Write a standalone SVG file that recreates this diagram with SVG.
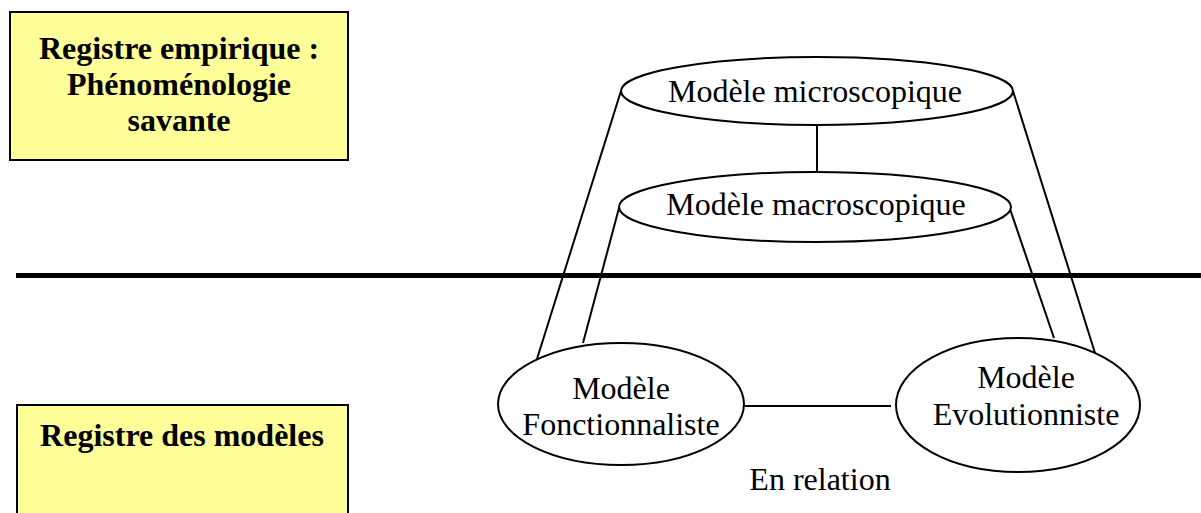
<svg xmlns="http://www.w3.org/2000/svg" width="1201" height="513" viewBox="0 0 1201 513">
  <style>
    .box { fill: #FFFF99; stroke: #000; stroke-width: 2; }
    .node { fill: #fff; stroke: #000; stroke-width: 2; }
    .link { stroke: #000; stroke-width: 2; fill: none; }
    .bold { font-family: "Liberation Serif", "Times New Roman", serif; font-weight: bold; font-size: 32px; text-anchor: middle; fill: #000; }
    .lbl { font-family: "Liberation Serif", "Times New Roman", serif; font-size: 32px; text-anchor: middle; fill: #000; }
  </style>
  <rect width="1201" height="513" fill="#fff"/>

  <!-- register separator -->
  <line x1="16" y1="275.5" x2="1201" y2="275.5" stroke="#000" stroke-width="5"/>

  <!-- connectors -->
  <g id="connectors">
    <line class="link" x1="817" y1="125" x2="817" y2="172"/>
    <line class="link" x1="621" y1="91" x2="537" y2="359"/>
    <line class="link" x1="619" y1="208" x2="583" y2="343"/>
    <line class="link" x1="1013" y1="91" x2="1095" y2="353"/>
    <line class="link" x1="1010" y1="209" x2="1054" y2="338"/>
    <line class="link" x1="745" y1="406" x2="891" y2="406"/>
  </g>

  <g id="registre-empirique">
    <rect class="box" x="10" y="12" width="338" height="148"/>
    <text class="bold" x="179" y="59">Registre empirique :</text>
    <text class="bold" x="179" y="95">Phénoménologie</text>
    <text class="bold" x="179" y="131">savante</text>
  </g>

  <g id="registre-modeles">
    <rect class="box" x="17" y="405" width="331" height="120"/>
    <text class="bold" x="182" y="446">Registre des modèles</text>
  </g>

  <g id="modele-microscopique">
    <ellipse class="node" cx="817" cy="91" rx="196" ry="34"/>
    <text class="lbl" x="815" y="102">Modèle microscopique</text>
  </g>

  <g id="modele-macroscopique">
    <ellipse class="node" cx="815" cy="207" rx="196" ry="35"/>
    <text class="lbl" x="816" y="215">Modèle macroscopique</text>
  </g>

  <g id="modele-fonctionnaliste">
    <ellipse class="node" cx="621" cy="404" rx="123" ry="61"/>
    <text class="lbl" x="621" y="399">Modèle</text>
    <text class="lbl" x="621" y="435">Fonctionnaliste</text>
  </g>

  <g id="modele-evolutionniste">
    <ellipse class="node" cx="1018" cy="405" rx="122" ry="67"/>
    <text class="lbl" x="1026" y="388">Modèle</text>
    <text class="lbl" x="1026" y="425">Evolutionniste</text>
  </g>

  <g id="en-relation">
    <text class="lbl" x="820" y="490">En relation</text>
  </g>
</svg>
